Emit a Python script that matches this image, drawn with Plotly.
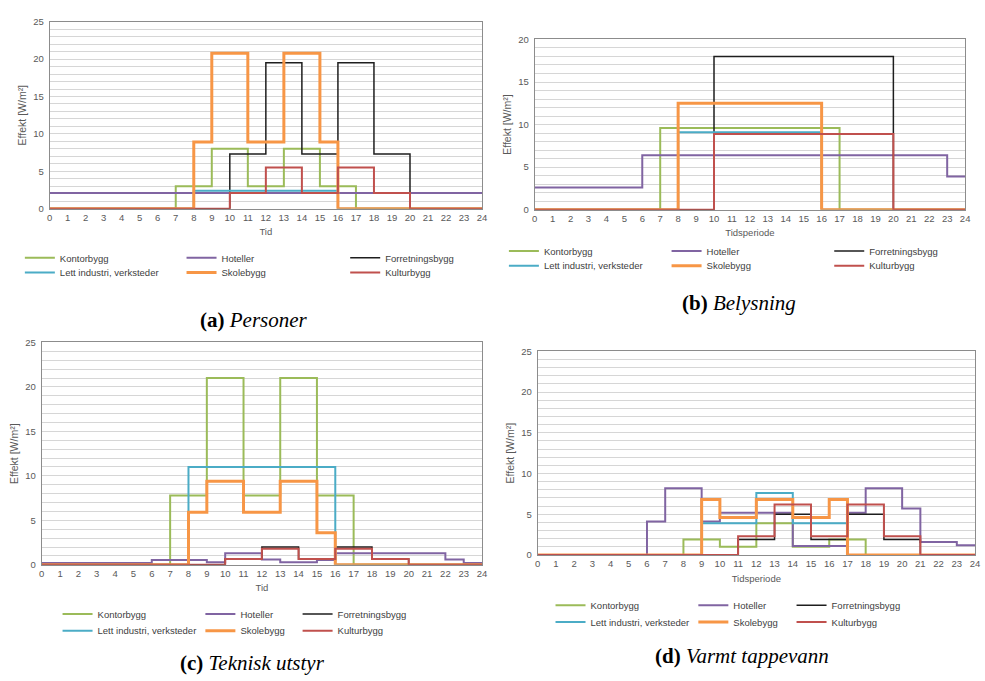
import plotly.graph_objects as go

# ---------------- data ----------------
HOURS = [0, 1, 2, 3, 4, 5, 6, 7, 8, 9, 10, 11, 12, 13, 14, 15, 16, 17, 18, 19, 20, 21, 22, 23, 24]
SERIES = ["Kontorbygg", "Hoteller", "Forretningsbygg",
          "Lett industri, verksteder", "Skolebygg", "Kulturbygg"]

# (a) Personer - hourly values, hour 0..23
A_KONTOR = [0, 0, 0, 0, 0, 0, 0, 3, 3, 8, 8, 3, 3, 8, 8, 3, 3, 0, 0, 0, 0, 0, 0, 0]
A_HOTELL = [2.1, 2.1, 2.1, 2.1, 2.1, 2.1, 2.1, 2.1, 2.1, 2.1, 2.1, 2.1, 2.1, 2.1, 2.1, 2.1, 2.1, 2.1, 2.1, 2.1, 2.1, 2.1, 2.1, 2.1]
A_FORRETNING = [0, 0, 0, 0, 0, 0, 0, 0, 0, 0, 7.3, 7.3, 19.5, 19.5, 7.3, 7.3, 19.5, 19.5, 7.3, 7.3, 0, 0, 0, 0]
A_LETT = [0, 0, 0, 0, 0, 0, 0, 0, 2.4, 2.4, 2.4, 2.4, 2.4, 2.4, 2.4, 2.4, 0, 0, 0, 0, 0, 0, 0, 0]
A_SKOLE = [0, 0, 0, 0, 0, 0, 0, 0, 8.9, 20.8, 20.8, 8.9, 8.9, 20.8, 20.8, 8.9, 0, 0, 0, 0, 0, 0, 0, 0]
A_KULTUR = [0, 0, 0, 0, 0, 0, 0, 0, 0, 0, 2.1, 2.1, 5.5, 5.5, 2.1, 2.1, 5.5, 5.5, 2.1, 2.1, 0, 0, 0, 0]

# (b) Belysning
B_KONTOR = [0, 0, 0, 0, 0, 0, 0, 9.6, 9.6, 9.6, 9.6, 9.6, 9.6, 9.6, 9.6, 9.6, 9.6, 0, 0, 0, 0, 0, 0, 0]
B_HOTELL = [2.6, 2.6, 2.6, 2.6, 2.6, 2.6, 6.4, 6.4, 6.4, 6.4, 6.4, 6.4, 6.4, 6.4, 6.4, 6.4, 6.4, 6.4, 6.4, 6.4, 6.4, 6.4, 6.4, 3.9]
B_FORRETNING = [0, 0, 0, 0, 0, 0, 0, 0, 0, 0, 18, 18, 18, 18, 18, 18, 18, 18, 18, 18, 0, 0, 0, 0]
B_LETT = [0, 0, 0, 0, 0, 0, 0, 0, 9.1, 9.1, 9.1, 9.1, 9.1, 9.1, 9.1, 9.1, 0, 0, 0, 0, 0, 0, 0, 0]
B_SKOLE = [0, 0, 0, 0, 0, 0, 0, 0, 12.5, 12.5, 12.5, 12.5, 12.5, 12.5, 12.5, 12.5, 0, 0, 0, 0, 0, 0, 0, 0]
B_KULTUR = [0, 0, 0, 0, 0, 0, 0, 0, 0, 0, 8.9, 8.9, 8.9, 8.9, 8.9, 8.9, 8.9, 8.9, 8.9, 8.9, 0, 0, 0, 0]

# (c) Teknisk utstyr
C_KONTOR = [0, 0, 0, 0, 0, 0, 0, 7.8, 7.8, 21, 21, 7.8, 7.8, 21, 21, 7.8, 7.8, 0, 0, 0, 0, 0, 0, 0]
C_HOTELL = [0.2, 0.2, 0.2, 0.2, 0.2, 0.2, 0.55, 0.55, 0.55, 0.3, 1.3, 1.3, 0.6, 0.3, 0.3, 0.55, 1.3, 1.3, 1.3, 1.3, 1.3, 1.3, 0.6, 0.2]
C_FORRETNING = [0, 0, 0, 0, 0, 0, 0, 0, 0, 0, 0.65, 0.65, 2.0, 2.0, 0.65, 0.65, 2.0, 2.0, 0.65, 0.65, 0, 0, 0, 0]
C_LETT = [0, 0, 0, 0, 0, 0, 0, 0, 11, 11, 11, 11, 11, 11, 11, 11, 0, 0, 0, 0, 0, 0, 0, 0]
C_SKOLE = [0, 0, 0, 0, 0, 0, 0, 0, 5.9, 9.4, 9.4, 5.9, 5.9, 9.4, 9.4, 3.6, 0, 0, 0, 0, 0, 0, 0, 0]
C_KULTUR = [0, 0, 0, 0, 0, 0, 0, 0, 0, 0, 0.65, 0.65, 1.8, 1.8, 0.65, 0.65, 1.8, 1.8, 0.65, 0.65, 0, 0, 0, 0]

# (d) Varmt tappevann
D_KONTOR = [0, 0, 0, 0, 0, 0, 0, 0, 1.9, 1.9, 1.0, 1.0, 3.9, 3.9, 1.0, 1.0, 1.9, 1.9, 0, 0, 0, 0, 0, 0]
D_HOTELL = [0, 0, 0, 0, 0, 0, 4.1, 8.2, 8.2, 4.1, 5.2, 5.2, 5.2, 5.2, 1.1, 1.1, 1.1, 5.2, 8.2, 8.2, 5.7, 1.6, 1.6, 1.2]
D_FORRETNING = [0, 0, 0, 0, 0, 0, 0, 0, 0, 0, 0, 1.9, 1.9, 5.0, 5.0, 1.9, 1.9, 5.0, 5.0, 1.9, 1.9, 0, 0, 0]
D_LETT = [0, 0, 0, 0, 0, 0, 0, 0, 0, 3.9, 3.9, 3.9, 7.6, 7.6, 3.9, 3.9, 3.9, 0, 0, 0, 0, 0, 0, 0]
D_SKOLE = [0, 0, 0, 0, 0, 0, 0, 0, 0, 6.8, 4.6, 4.6, 6.8, 6.8, 4.6, 4.6, 6.8, 0, 0, 0, 0, 0, 0, 0]
D_KULTUR = [0, 0, 0, 0, 0, 0, 0, 0, 0, 0, 0, 2.3, 2.3, 6.2, 6.2, 2.3, 2.3, 6.2, 6.2, 2.3, 2.3, 0, 0, 0]

X_TITLES = ["Tid", "Tidsperiode", "Tid", "Tidsperiode"]
Y_TITLE = "Effekt [W/m²]"
Y_MAX = [25, 20, 25, 25]
CAPTIONS = ["<b>(a)</b> <i>Personer</i>", "<b>(b)</b> <i>Belysning</i>",
            "<b>(c)</b> <i>Teknisk utstyr</i>", "<b>(d)</b> <i>Varmt tappevann</i>"]

PANEL_DATA = [
    [A_KONTOR, A_HOTELL, A_FORRETNING, A_LETT, A_SKOLE, A_KULTUR],
    [B_KONTOR, B_HOTELL, B_FORRETNING, B_LETT, B_SKOLE, B_KULTUR],
    [C_KONTOR, C_HOTELL, C_FORRETNING, C_LETT, C_SKOLE, C_KULTUR],
    [D_KONTOR, D_HOTELL, D_FORRETNING, D_LETT, D_SKOLE, D_KULTUR],
]

# ---------------- styling / layout ----------------
W, H = 985, 681
COLORS = ["#9BBB59", "#8064A2", "#1E1E1E", "#4BACC6", "#F79646", "#C0504D"]
WIDTHS = [2, 2, 1.5, 2, 3, 2]
FONT = "Liberation Sans"
TICK_COLOR = "#595959"

# plot areas in pixels: (left, right, top, bottom)
BOXES = [(47, 483, 16, 206), (536, 970, 34, 207), (39, 483, 342, 568), (539, 980, 351, 558)]
# legend: row centers (y px) and column line starts (x px)
LEG_ROWS = [(256, 271), (249, 264), (618, 635), (609, 626)]
LEG_COLS = [(30, 193, 358), (518, 682, 846), (68, 212, 310), (565, 709, 808)]
CAP_POS = [(253, 319), (742, 302), (252, 668), (745, 661)]
LEG_OFFSET = 13  # px between legend box left edge and target line start

fig = go.Figure()
layout = dict(
    width=W, height=H, margin=dict(l=0, r=0, t=0, b=0),
    paper_bgcolor="white", plot_bgcolor="white",
    font=dict(family=FONT, color=TICK_COLOR, size=9),
    annotations=[],
)

for p in range(4):
    sfx = "" if p == 0 else str(p + 1)
    l, r, t, b = BOXES[p]
    layout["xaxis" + sfx] = dict(
        domain=[l / W, r / W], anchor="y" + sfx, range=[0, 24],
        tickmode="array", tickvals=HOURS, ticktext=[str(h) for h in HOURS],
        showgrid=False, zeroline=False, showline=True, mirror=True,
        linecolor="#8C8C8C", linewidth=1, ticks="",
        tickfont=dict(size=9.5, color=TICK_COLOR, family=FONT),
        title=dict(text=X_TITLES[p], font=dict(size=9.5, color=TICK_COLOR, family=FONT), standoff=6),
    )
    layout["yaxis" + sfx] = dict(
        domain=[1 - b / H, 1 - t / H], anchor="x" + sfx, range=[0, Y_MAX[p]],
        dtick=5, tick0=0, showgrid=True, gridcolor="#D6D6D6", gridwidth=1.2,
        minor=dict(dtick=1, showgrid=True, gridcolor="#D6D6D6", gridwidth=1.2),
        zeroline=False, showline=True, mirror=True, linecolor="#8C8C8C", linewidth=1,
        ticks="", ticklabelstandoff=3,
        tickfont=dict(size=9.5, color=TICK_COLOR, family=FONT),
        title=dict(text=Y_TITLE, font=dict(size=10.5, color=TICK_COLOR, family=FONT), standoff=4),
    )
    for s in range(6):
        k = p * 6 + s
        leg_id = "legend" if k == 0 else "legend" + str(k + 1)
        vals = PANEL_DATA[p][s]
        fig.add_trace(go.Scatter(
            x=HOURS, y=vals + [vals[-1]], mode="lines", line_shape="hv",
            name=SERIES[s], line=dict(color=COLORS[s], width=WIDTHS[s]),
            xaxis="x" + sfx, yaxis="y" + sfx, legend=leg_id, showlegend=True,
            hoverinfo="skip",
        ))
        row, col = s // 3, s % 3
        layout[leg_id] = dict(
            x=(LEG_COLS[p][col] - LEG_OFFSET) / W, y=1 - LEG_ROWS[p][row] / H,
            xanchor="left", yanchor="middle", orientation="h",
            bgcolor="rgba(0,0,0,0)", borderwidth=0, itemwidth=30,
            font=dict(size=9.5, color="#404040", family=FONT),
        )
    cx, cy = CAP_POS[p]
    layout["annotations"].append(dict(
        text=CAPTIONS[p], x=cx / W, y=1 - cy / H, xref="paper", yref="paper",
        xanchor="center", yanchor="middle", showarrow=False,
        font=dict(family="Liberation Serif", size=21, color="#000000"),
    ))

fig.update_layout(**layout)
fig.write_html("out.html")
